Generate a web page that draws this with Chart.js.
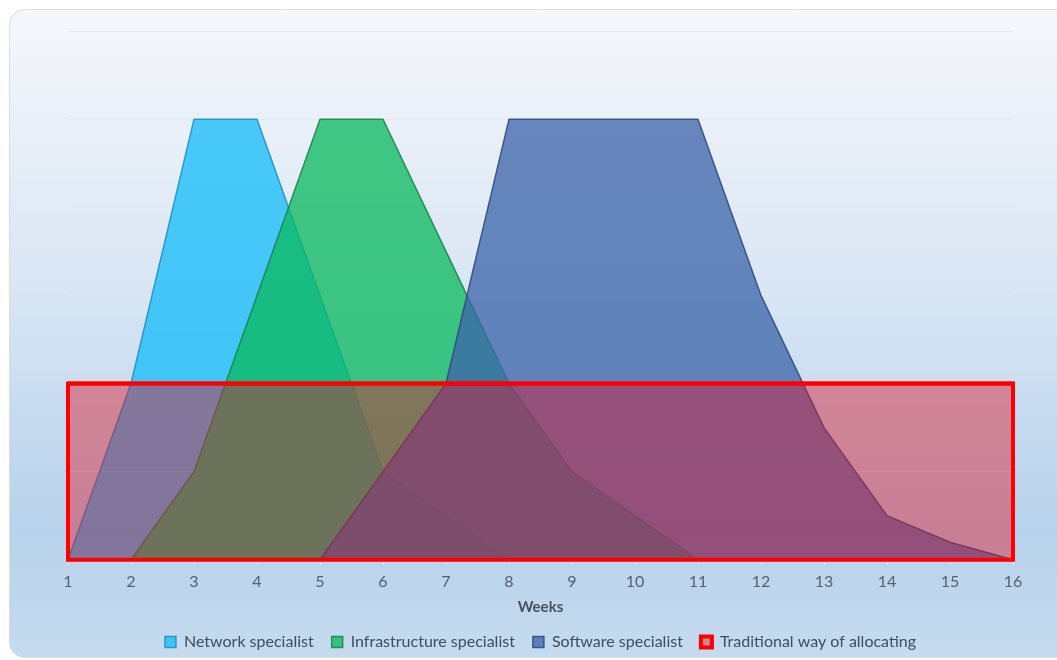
<!DOCTYPE html>
<html>
<head>
<meta charset="utf-8">
<script src="https://cdn.jsdelivr.net/npm/chart.js@4.4.1/dist/chart.umd.min.js"></script>
<style>
  html, body { margin: 0; padding: 0; background: #ffffff; }
  #wrap { width: 1057px; height: 660px; }
</style>
</head>
<body>
<div id="wrap"><canvas id="staffChart" width="1057" height="660"></canvas></div>
<script>
// weeks on the x axis
const weeks = ["1", "2", "3", "4", "5", "6", "7", "8", "9", "10", "11", "12", "13", "14", "15", "16"];

// people allocated per week
const network = [0, 2, 5, 5, 3, 1, 0.5, 0, 0, 0, 0, 0, 0, 0, 0, 0];
const infrastructure = [0, 0, 1, 3, 5, 5, 3.5, 2, 1, 0.5, 0, 0, 0, 0, 0, 0];
const software = [0, 0, 0, 0, 0, 1, 2, 5, 5, 5, 5, 3, 1.5, 0.5, 0.2, 0];
const traditional = [2, 2, 2, 2, 2, 2, 2, 2, 2, 2, 2, 2, 2, 2, 2, 2];

const yMax = 6;

// rounded panel with the blue gradient behind the chart
const panelBackground = {
  id: "panelBackground",
  beforeDraw(chart) {
    const ctx = chart.ctx;
    const w = chart.width, h = chart.height;
    ctx.save();
    ctx.fillStyle = "#ffffff";
    ctx.fillRect(0, 0, w, h);
    const grad = ctx.createLinearGradient(0, 9, 0, h);
    grad.addColorStop(0, "#f5f7fb");
    grad.addColorStop(0.4, "#dbe7f4");
    grad.addColorStop(0.8, "#b7d2eb");
    grad.addColorStop(1, "#c6dbef");
    ctx.beginPath();
    ctx.roundRect(9.5, 9.5, w + 20, h - 12, 15);
    ctx.fillStyle = grad;
    ctx.fill();
    ctx.strokeStyle = "#d9dee5";
    ctx.lineWidth = 1;
    ctx.stroke();
    ctx.restore();
  }
};

// closes the "traditional" area into a full rectangle outline
const allocationBox = {
  id: "allocationBox",
  afterDatasetsDraw(chart) {
    const idx = chart.data.datasets.findIndex(d => d.label === "Traditional way of allocating");
    const meta = chart.getDatasetMeta(idx);
    if (!meta || meta.hidden || !meta.data.length) return;
    const first = meta.data[0];
    const last = meta.data[meta.data.length - 1];
    const base = chart.scales.y.getPixelForValue(0);
    const ctx = chart.ctx;
    ctx.save();
    ctx.strokeStyle = "#ff0000";
    ctx.lineWidth = 4;
    ctx.strokeRect(first.x, first.y, last.x - first.x, base - first.y);
    ctx.restore();
  }
};

new Chart(document.getElementById("staffChart"), {
  type: "line",
  data: {
    labels: weeks,
    datasets: [
      {
        label: "Network specialist",
        data: network,
        backgroundColor: "rgba(20,188,248,0.76)",
        borderColor: "rgba(30,140,190,0.85)",
        borderWidth: 1.5,
        fill: "origin",
        order: 3
      },
      {
        label: "Infrastructure specialist",
        data: infrastructure,
        backgroundColor: "rgba(10,185,95,0.76)",
        borderColor: "rgba(25,130,75,0.85)",
        borderWidth: 1.5,
        fill: "origin",
        order: 2
      },
      {
        label: "Software specialist",
        data: software,
        backgroundColor: "rgba(60,100,170,0.76)",
        borderColor: "rgba(45,70,120,0.85)",
        borderWidth: 1.5,
        fill: "origin",
        order: 1
      },
      {
        label: "Traditional way of allocating",
        data: traditional,
        backgroundColor: "rgba(220,20,40,0.44)",
        borderColor: "#ff0000",
        borderWidth: 4,
        fill: "origin",
        order: 0
      }
    ]
  },
  options: {
    responsive: false,
    animation: false,
    layout: {
      padding: { left: 68, right: 44, top: 31, bottom: 0 }
    },
    elements: {
      point: { radius: 0, hoverRadius: 0 },
      line: { tension: 0 }
    },
    plugins: {
      legend: {
        position: "bottom",
        labels: {
          boxWidth: 11,
          boxHeight: 11,
          padding: 18,
          color: "#3e4d61",
          font: { family: "Lato", size: 16 },
          sort: (a, b) => a.datasetIndex - b.datasetIndex
        }
      },
      tooltip: { enabled: false }
    },
    scales: {
      y: {
        min: 0,
        max: yMax,
        ticks: { display: false, stepSize: 1 },
        border: { display: false },
        grid: { color: "rgba(226,231,238,0.95)", drawTicks: false },
        afterFit(scale) { scale.width = 0; }
      },
      x: {
        offset: false,
        border: { display: true, color: "rgba(238,242,248,0.95)" },
        grid: {
          drawOnChartArea: false,
          drawTicks: true,
          tickLength: 5,
          color: "rgba(238,242,248,0.95)"
        },
        ticks: {
          color: "#56606f",
          padding: 7,
          maxRotation: 0,
          font: { family: "Lato", size: 16 }
        },
        title: {
          display: true,
          text: "Weeks",
          color: "#47505e",
          padding: { top: 0, bottom: 0 },
          font: { family: "Lato", size: 15, weight: "bold" }
        }
      }
    }
  },
  plugins: [panelBackground, allocationBox]
});
</script>
</body>
</html>
